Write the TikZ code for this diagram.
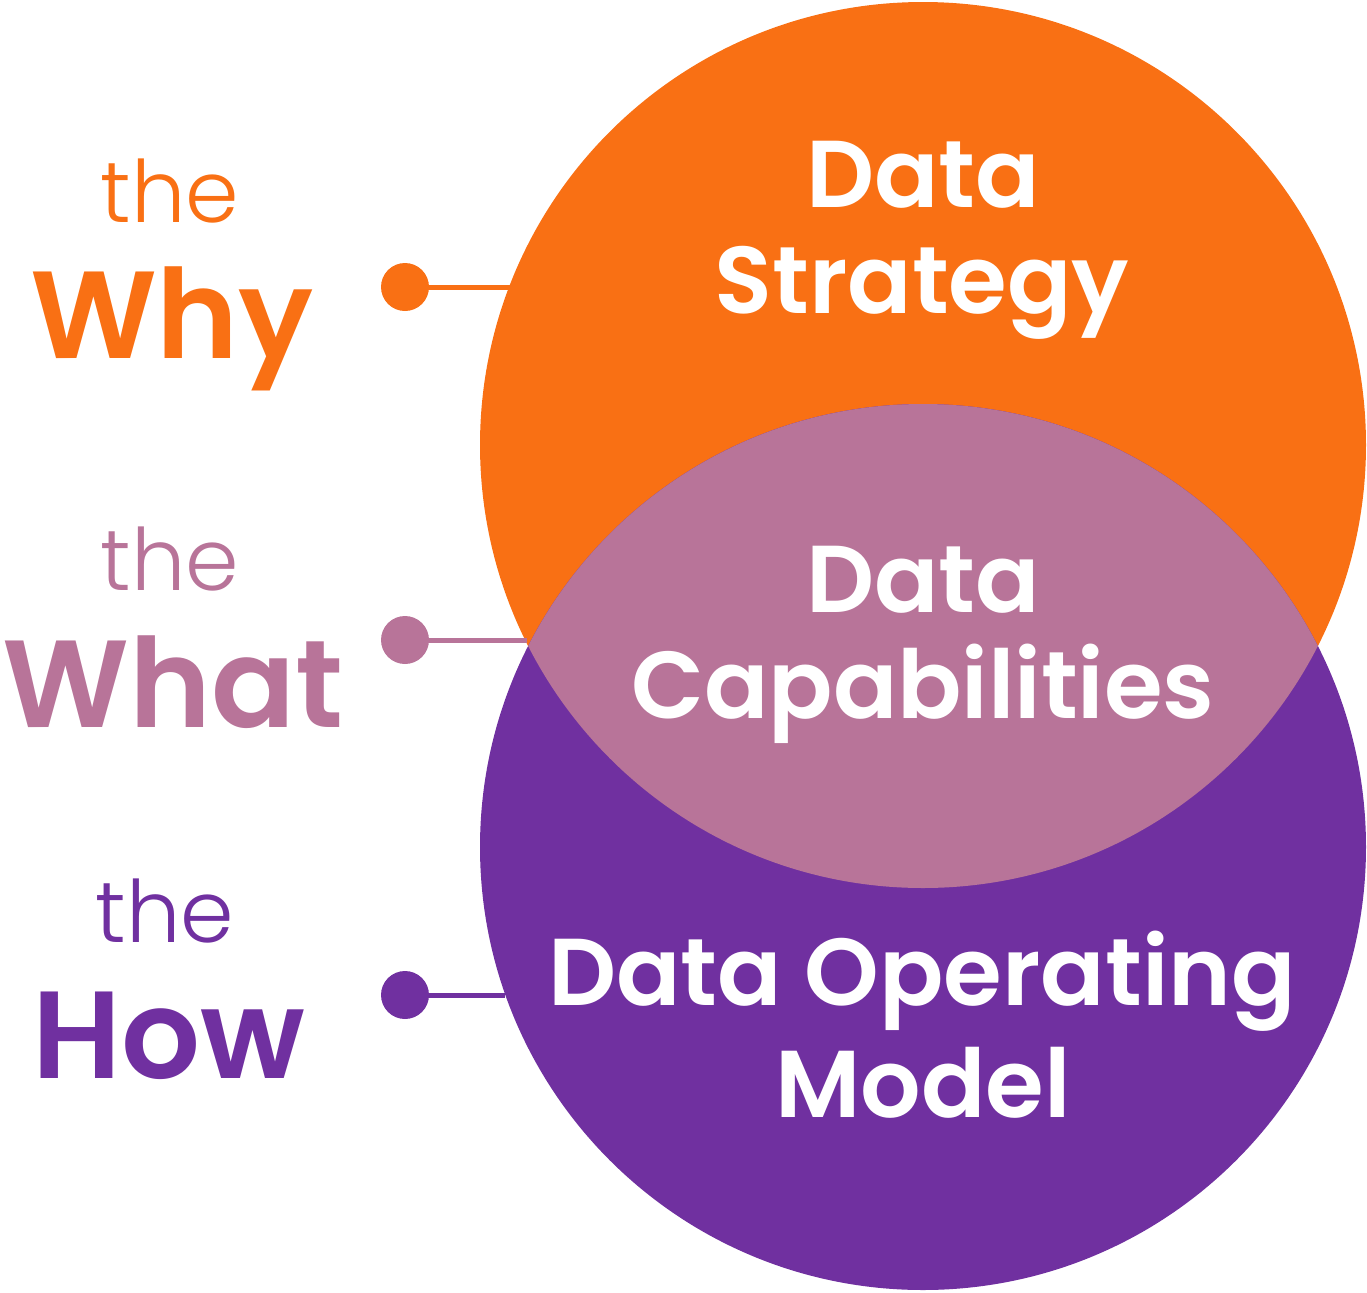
\documentclass[tikz,border=0pt]{standalone}
\usepackage{fontspec}
\setmainfont{Poppins}
\newfontfamily\boldf{Poppins SemiBold}
\newfontfamily\lightf{Poppins Light}
\definecolor{vorange}{RGB}{249,112,20}
\definecolor{vpurple}{RGB}{112,48,160}
\definecolor{vpink}{RGB}{184,116,153}
\tikzset{
  inner/.style={text=white, font=\boldf\fontsize{47.5}{54}\selectfont, anchor=base, inner sep=0pt},
  thelab/.style={font=\lightf\fontsize{43}{48}\selectfont, anchor=base, inner sep=0pt},
  biglab/.style={font=\boldf\fontsize{62}{68}\selectfont, anchor=base, inner sep=0pt},
  conn/.style={line width=2.5pt},
  dotn/.style={circle, inner sep=0pt, minimum size=24pt}
}
\begin{document}
\begin{tikzpicture}[x=0.5pt,y=-0.5pt]
\useasboundingbox (0,0) rectangle (1367,1292);
% circles
\fill[vorange] (923,445) circle[radius=443];
\fill[vpurple] (923,847) circle[radius=443];
\begin{scope}
  \clip (923,847) circle[radius=443];
  \fill[vpink] (923,445) circle[radius=443];
\end{scope}
% anchor points on circle edges
\coordinate (e1) at (510,287);
\coordinate (e2) at (527,640);
\coordinate (e3) at (505,995);
% dots
\node[dotn, fill=vorange] (d1) at (405,287) {};
\node[dotn, fill=vpink] (d2) at (405,640) {};
\node[dotn, fill=vpurple] (d3) at (405,995) {};
\draw[conn, vorange] (d1.center) -- (e1);
\draw[conn, vpink] (d2.center) -- (e2);
\draw[conn, vpurple] (d3.center) -- (e3);
% inner texts
\node[inner] (t1) at (923,207) {Data};
\node[inner] (t2) at (922,313) {Strategy};
\node[inner] (t3) at (923,612) {Data};
\node[inner] (t4) at (923,718) {Capabilities};
\node[inner] (t5) at (922,1005) {Data Operating};
\node[inner] (t6) at (923,1117) {Model};
% left labels
\node[thelab, text=vorange] (l1) at (170,222) {the};
\node[biglab, text=vorange] (l2) at (172,358) {Why};
\node[thelab, text=vpink] (l3) at (170,590) {the};
\node[biglab, text=vpink] (l4) at (173,727) {What};
\node[thelab, text=vpurple] (l5) at (165,942) {the};
\node[biglab, text=vpurple] (l6) at (169,1078) {How};
\end{tikzpicture}
\end{document}
